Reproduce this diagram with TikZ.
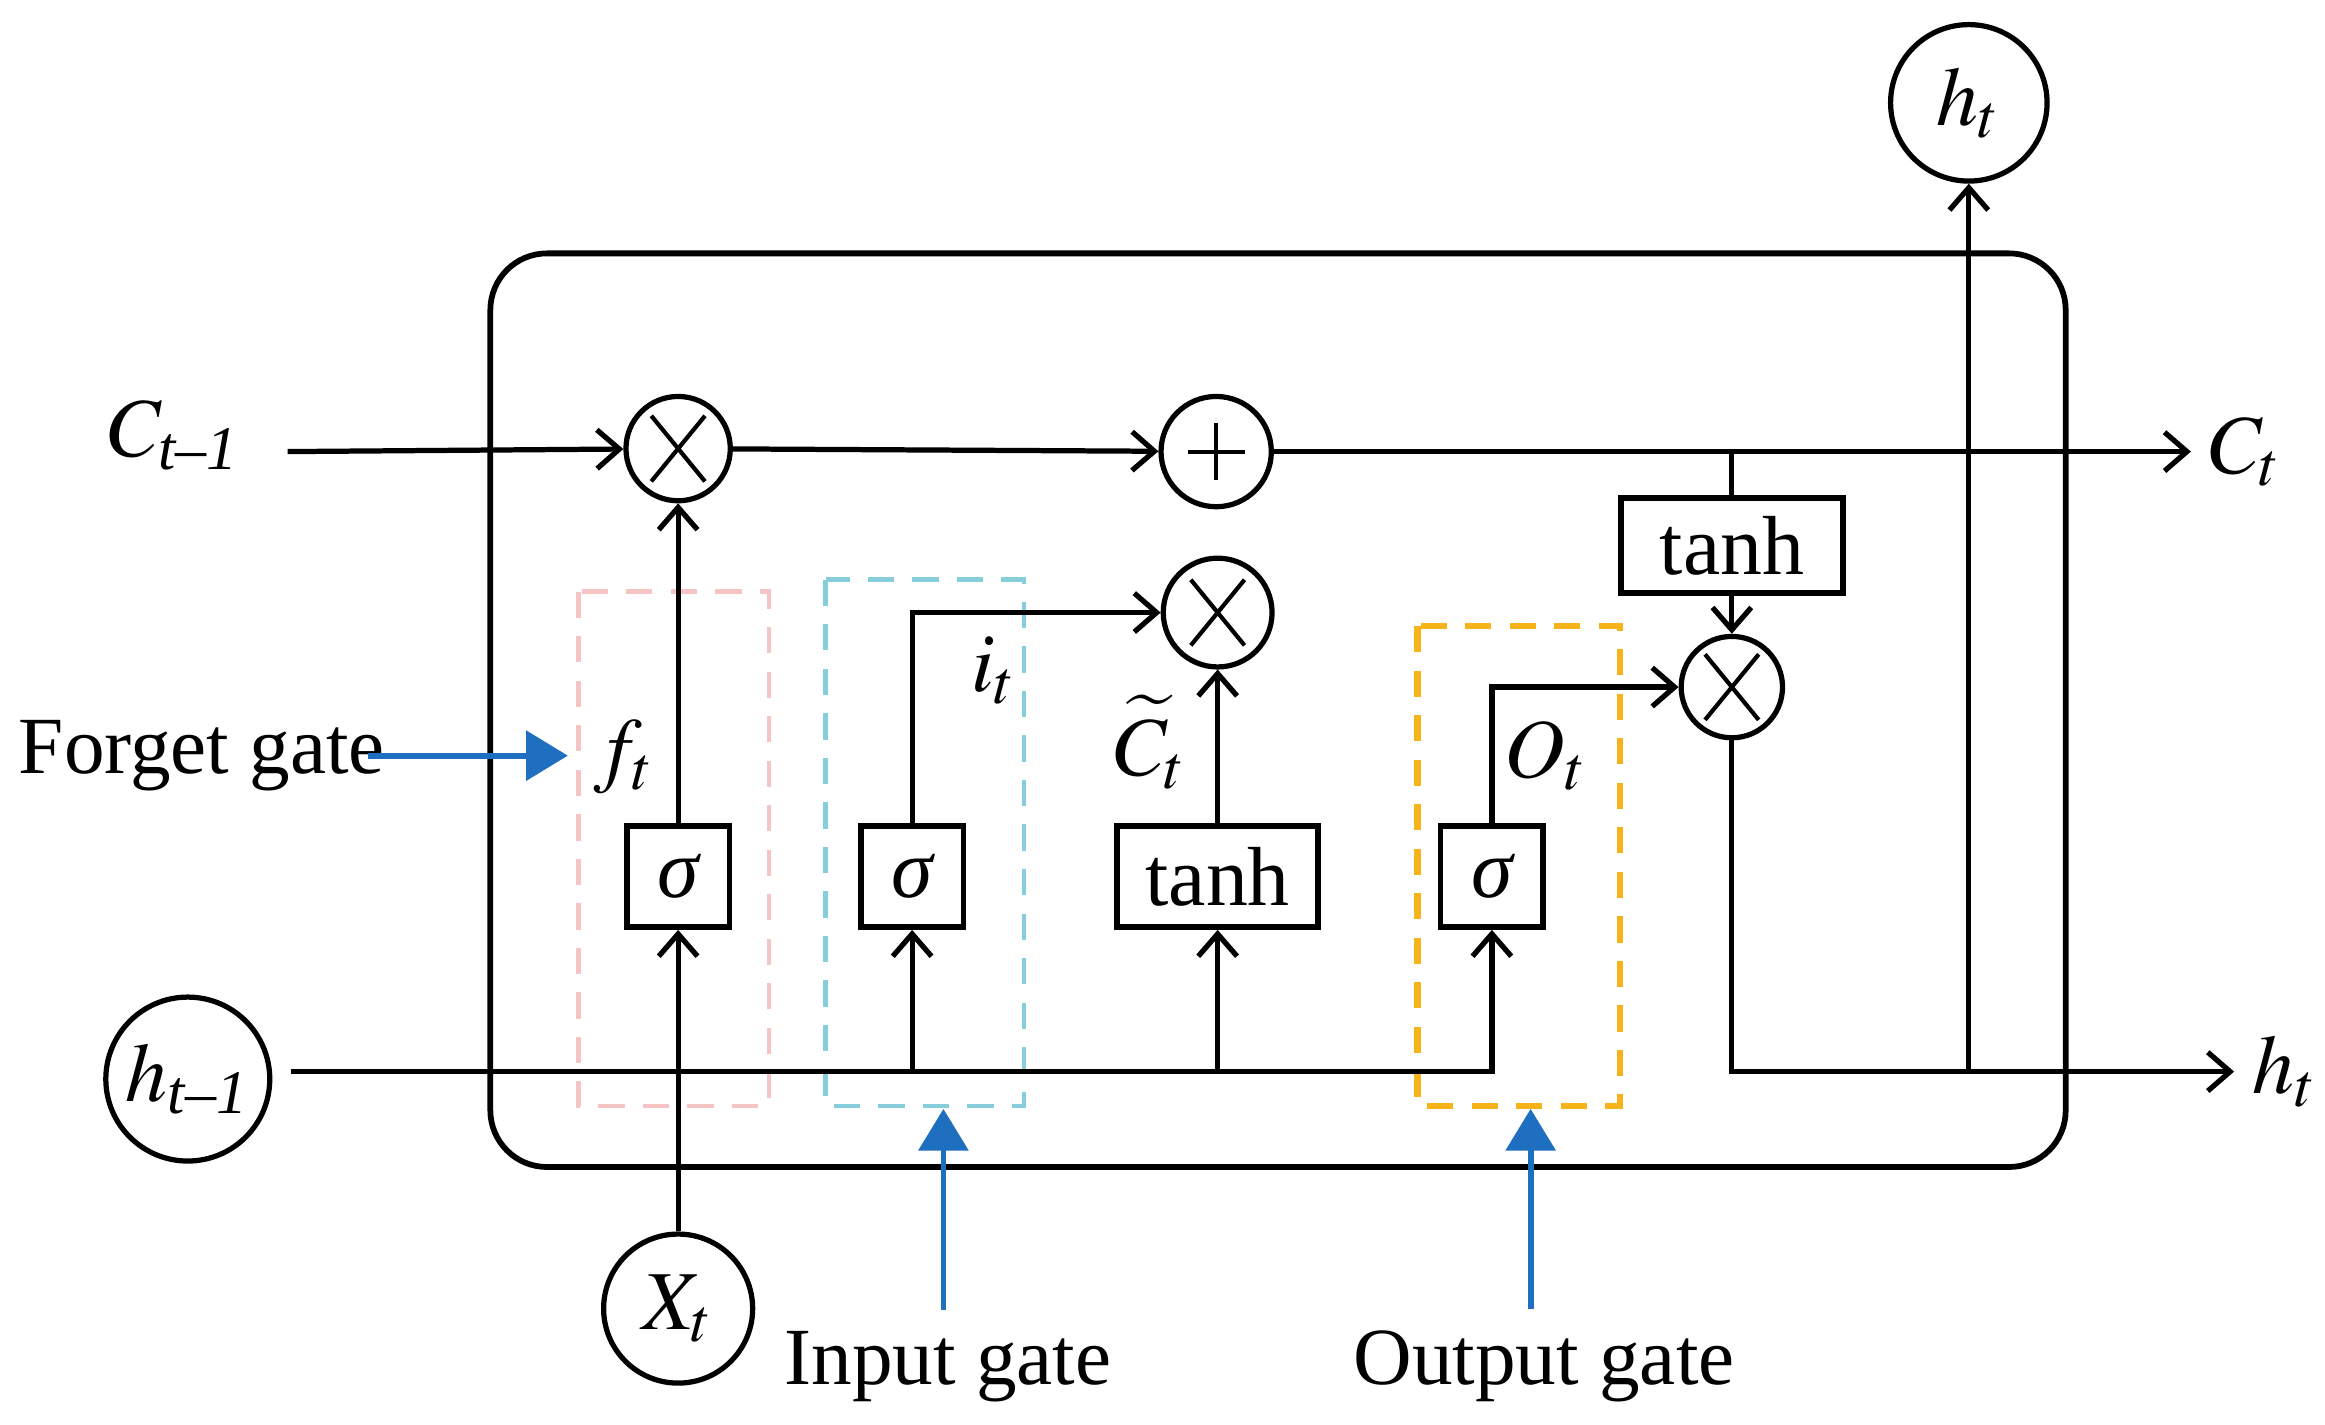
\documentclass[tikz,border=0pt]{standalone}
\usepackage{amsmath}
\usepackage{mathptmx}
\usepackage{fontspec}
\setmainfont{Liberation Serif}
\usetikzlibrary{arrows.meta}

\definecolor{gateblue}{HTML}{1F6FC0}
\definecolor{fgpink}{HTML}{F5C4C4}
\definecolor{igcyan}{HTML}{86CEDC}
\definecolor{ogorange}{HTML}{F6B41A}

\begin{document}
\begin{tikzpicture}[
    font=\fontsize{16}{19}\selectfont,
    wire/.style={line width=1pt},
    arr/.style={line width=1pt,-{Straight Barb[length=1.5mm,width=2.6mm,line width=1pt]}},
    gatebox/.style={draw,line width=1.1pt,minimum height=0.66cm,inner sep=2pt},
    hnode/.style={circle,draw,line width=1pt,inner sep=0pt},
    mult/.style={circle,draw,line width=1pt,minimum size=0.73cm,inner sep=0pt,
        path picture={
            \draw[line width=0.8pt] ([shift={(-0.18,-0.22)}]path picture bounding box.center) -- ++(0.36,0.44);
            \draw[line width=0.8pt] ([shift={(-0.18,0.22)}]path picture bounding box.center) -- ++(0.36,-0.44);}},
    addop/.style={circle,draw,line width=1pt,minimum size=0.74cm,inner sep=0pt,
        path picture={
            \draw[line width=0.8pt] ([xshift=-0.19cm]path picture bounding box.center) -- ++(0.38,0);
            \draw[line width=0.8pt] ([yshift=-0.19cm]path picture bounding box.center) -- ++(0,0.38);}},
    gatedash/.style={line width=0.9pt,dash pattern=on 5pt off 3.5pt},
    gatearrow/.style={draw=gateblue,line width=1.1pt,-{Triangle[length=2.8mm,width=3.3mm]}},
    gatetext/.style={inner sep=0pt,font=\fontsize{15.5}{18}\selectfont},
]
\useasboundingbox (0,0) rectangle (15.6,-9.561);

% 外框与门的虚线框
\draw[line width=1.1pt,rounded corners=0.38cm] (3.29,-1.70) rectangle (13.86,-7.83);
\draw[gatedash,draw=fgpink] (3.88,-3.97) rectangle (5.16,-7.42);
\draw[gatedash,draw=igcyan] (5.54,-3.89) rectangle (6.87,-7.42);
\draw[gatedash,draw=ogorange,line width=1.2pt] (9.51,-4.20) rectangle (10.87,-7.42);

% 节点
\node[hnode,minimum size=1.1cm] (hprev) at (1.26,-7.24) {$h_{\text{\itshape t–1}}$};
\node[hnode,minimum size=1.0cm] (xt) at (4.55,-8.78) {$X_t$};
\node[hnode,minimum size=1.05cm] (hout) at (13.21,-0.69) {$h_t$};
\node (ctprev) at (1.17,-2.92) {$C_{\text{\itshape t–1}}$};
\node[anchor=west] (ct) at (14.70,-3.03) {$C_t$};
\node[anchor=west] (htr) at (14.99,-7.19) {$h_t$};

\node[mult,minimum size=0.70cm] (fx) at (4.55,-3.01) {};
\node[addop] (add) at (8.16,-3.03) {};
\node[mult] (ix) at (8.17,-4.11) {};
\node[mult,minimum size=0.68cm] (ox) at (11.62,-4.61) {};
\node[gatebox,minimum width=1.49cm,minimum height=0.64cm] (tanho) at (11.62,-3.66) {tanh};

\node[gatebox,minimum width=0.69cm,minimum height=0.68cm] (sf) at (4.55,-5.88) {\itshape σ};
\node[gatebox,minimum width=0.69cm,minimum height=0.68cm] (si) at (6.12,-5.88) {\itshape σ};
\node[gatebox,minimum width=1.35cm,minimum height=0.68cm] (tc) at (8.17,-5.88) {tanh};
\node[gatebox,minimum width=0.69cm,minimum height=0.68cm] (so) at (10.01,-5.88) {\itshape σ};

\node (ft) at (4.19,-5.08) {$f_t$};
\node (it) at (6.67,-4.50) {$i_t$};
\node (ctil) at (7.72,-4.98) {$\widetilde{C}_t$};
\node (ot) at (10.37,-5.07) {$O_t$};

% 连线
\coordinate (cin) at (1.93,-3.03);
\coordinate (hin) at (1.95,-7.19);
\draw[arr] (cin) -- (fx);
\draw[arr] (fx) -- (add);
\draw[arr] (add) -- (ct.west);
\draw[wire] (tanho |- add) -- (tanho);
\draw[arr] (tanho) -- (ox);

\draw[arr] (hin) -| (so);
\draw[arr] (si |- hin) -- (si);
\draw[arr] (tc |- hin) -- (tc);
\draw[arr] (xt) -- (sf);
\draw[arr] (sf) -- (fx);
\draw[arr] (si) |- (ix);
\draw[arr] (tc) -- (ix);
\draw[arr] (so) |- (ox);
\draw[arr] (ox) |- (htr.west);
\draw[arr] (hout |- htr.west) -- (hout);

% 门的标注
\node[gatetext,anchor=base west] (fg) at (0.12,-5.19) {Forget gate};
\node[gatetext,anchor=base] (ig) at (6.36,-9.29) {Input gate};
\node[gatetext,anchor=base] (og) at (10.36,-9.29) {Output gate};
\coordinate (fgtip) at (3.81,-5.07);
\coordinate (igtip) at (6.33,-7.44);
\coordinate (ogtip) at (10.27,-7.44);
\draw[gatearrow] ([xshift=-1.2mm]fg.east |- fgtip) -- (fgtip);
\draw[gatearrow] ([yshift=1.4mm]igtip |- ig.north) -- (igtip);
\draw[gatearrow] ([yshift=1.4mm]ogtip |- og.north) -- (ogtip);

\end{tikzpicture}
\end{document}
